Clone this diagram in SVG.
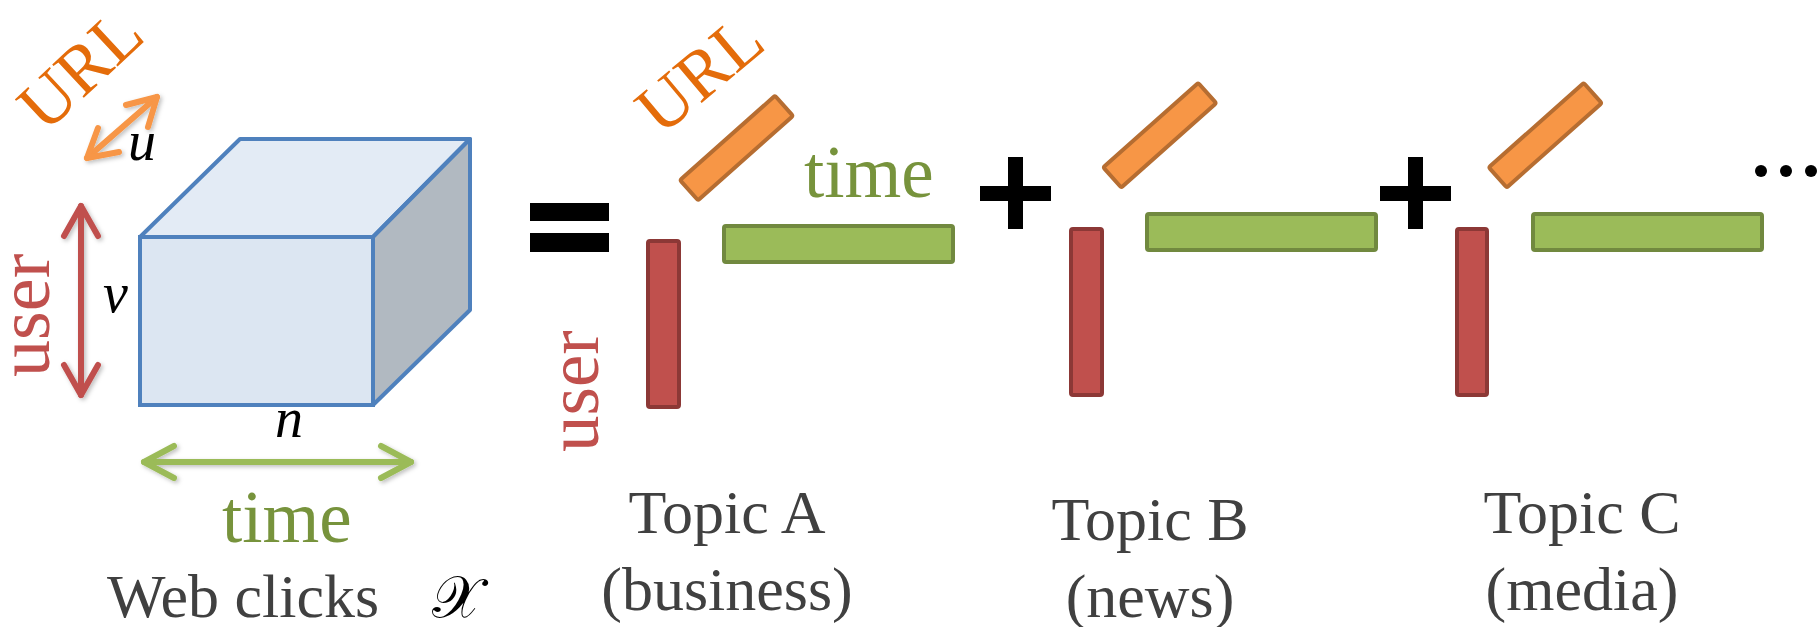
<svg xmlns="http://www.w3.org/2000/svg" width="1818" height="627" viewBox="0 0 1818 627" font-family="'Liberation Serif','Times New Roman',serif">
<defs>
<style>
text{font-family:"Liberation Serif","Times New Roman",serif;}
.it{font-style:italic;fill:#000;font-size:56px;}
.gray{fill:#404040;font-size:62px;}
.url{fill:#E46C0A;font-size:70px;}
.usr{fill:#C0504D;font-size:74px;}
.tim{fill:#77933C;font-size:73px;}
.ob{fill:#F79646;stroke:#B66D31;stroke-width:4;}
.gb{fill:#9BBB59;stroke:#71893F;stroke-width:4;}
.rb{fill:#C0504D;stroke:#8C3836;stroke-width:4;}
.arr{fill:none;stroke-width:6;stroke-linecap:round;stroke-linejoin:round;}
</style>
<filter id="sh" x="-20%" y="-20%" width="140%" height="140%">
<feDropShadow dx="2" dy="2" stdDeviation="2" flood-color="#000" flood-opacity="0.25"/>
</filter>
</defs>
<rect width="1818" height="627" fill="#fff"/>

<g id="cube">
<polygon points="140,237 240,139 470,139 373,237" fill="#E3EBF5" stroke="#4F81BD" stroke-width="4" stroke-linejoin="round"/>
<polygon points="373,237 470,139 470,310 373,405" fill="#B1B9C1" stroke="#4F81BD" stroke-width="4" stroke-linejoin="round"/>
<rect x="140" y="237" width="233" height="168" fill="#DCE6F2" stroke="#4F81BD" stroke-width="4"/>
</g>

<g id="connectors" filter="url(#sh)">
<g class="arr" stroke="#C0504D">
<line x1="81" y1="206" x2="81" y2="395"/>
<polyline points="64,236 81,206 98,236"/>
<polyline points="64,365 81,395 98,365"/>
</g>
<g class="arr" stroke="#9BBB59">
<line x1="144" y1="462" x2="411" y2="462"/>
<polyline points="174,446 144,462 174,478"/>
<polyline points="381,446 411,462 381,478"/>
</g>
<g class="arr" stroke="#F79646">
<line x1="87" y1="158" x2="157" y2="97"/>
<polyline points="126,105 157,97 148,127"/>
<polyline points="98,128 87,158 119,152"/>
</g>
</g>

<g id="axis-labels">
<text class="url" transform="translate(45,134) rotate(-43)">URL</text>
<text class="usr" transform="translate(49,377) rotate(-90)">user</text>
<text class="tim" x="222" y="542">time</text>
<text class="it" x="103" y="312">v</text>
<text class="it" x="128" y="160">u</text>
<text class="it" x="275" y="437">n</text>
</g>

<g id="web-clicks-label">
<text class="gray" x="107" y="617">Web clicks</text>
<text x="432" y="617" style="font-family:'DejaVu Serif','DejaVu Sans','Noto Sans',serif;font-size:58px;fill:#000">𝒳</text>
</g>

<g id="equals">
<rect x="530" y="203" width="79" height="18" fill="#000"/>
<rect x="530" y="233" width="79" height="19" fill="#000"/>
</g>

<g id="topic-a">
<rect class="ob" x="-63.5" y="-13.5" width="127" height="27" rx="2" transform="translate(736.5,148) rotate(-41.6)"/>
<rect class="gb" x="724" y="226" width="229" height="36" rx="2"/>
<rect class="rb" x="648" y="241" width="31" height="166" rx="2"/>
<text class="url" transform="translate(661,137) rotate(-40)">URL</text>
<text class="tim" x="804" y="197">time</text>
<text class="usr" transform="translate(598,452) rotate(-90)" style="font-size:73px">user</text>
<text class="gray" x="727" y="533" text-anchor="middle">Topic A</text>
<text class="gray" x="727" y="610" text-anchor="middle">(business)</text>
</g>

<g id="plus-1">
<rect x="980" y="186" width="71" height="15" fill="#000"/>
<rect x="1008" y="157" width="15" height="72" fill="#000"/>
</g>

<g id="topic-b">
<rect class="ob" x="-63.5" y="-13.5" width="127" height="27" rx="2" transform="translate(1159.75,135.25) rotate(-41.6)"/>
<rect class="gb" x="1147" y="214" width="229" height="36" rx="2"/>
<rect class="rb" x="1071" y="229" width="31" height="166" rx="2"/>
<text class="gray" x="1150" y="540" text-anchor="middle">Topic B</text>
<text class="gray" x="1150" y="617" text-anchor="middle">(news)</text>
</g>

<g id="plus-2">
<rect x="1380" y="186" width="71" height="15" fill="#000"/>
<rect x="1408" y="157" width="15" height="72" fill="#000"/>
</g>

<g id="topic-c">
<rect class="ob" x="-63.5" y="-13.5" width="127" height="27" rx="2" transform="translate(1545.25,135.25) rotate(-41.6)"/>
<rect class="gb" x="1533" y="214" width="229" height="36" rx="2"/>
<rect class="rb" x="1457" y="229" width="30" height="166" rx="2"/>
<text class="gray" x="1582" y="533" text-anchor="middle">Topic C</text>
<text class="gray" x="1582" y="610" text-anchor="middle">(media)</text>
</g>

<g id="ellipsis">
<circle cx="1761" cy="171" r="6" fill="#000"/>
<circle cx="1786" cy="171" r="6" fill="#000"/>
<circle cx="1811" cy="171" r="6" fill="#000"/>
</g>
</svg>
